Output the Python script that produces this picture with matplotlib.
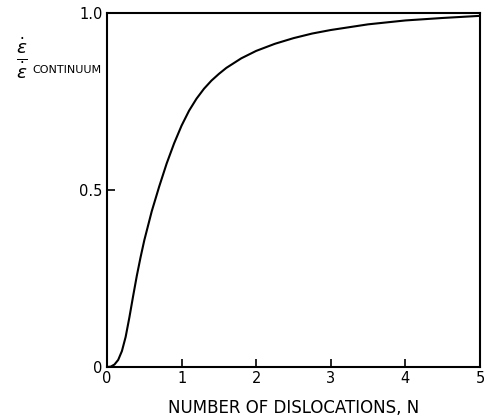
import numpy as np
import matplotlib
matplotlib.use('Agg')
import matplotlib.pyplot as plt

# curve
n_disl = [0, 0.05, 0.1, 0.15, 0.2, 0.25, 0.3, 0.35, 0.4, 0.45, 0.5, 0.6, 0.7, 0.8, 0.9,
          1.0, 1.1, 1.2, 1.3, 1.4, 1.5, 1.6, 1.8, 2.0, 2.25, 2.5, 2.75, 3.0, 3.5, 4.0, 4.5, 5.0]
rate_ratio = [0, 0.001, 0.007, 0.02, 0.045, 0.085, 0.14, 0.2, 0.258, 0.31, 0.358, 0.44,
              0.51, 0.575, 0.632, 0.682, 0.724, 0.758, 0.786, 0.809, 0.828, 0.845, 0.872,
              0.893, 0.913, 0.929, 0.942, 0.952, 0.968, 0.979, 0.986, 0.992]

x_ticks = [0, 1, 2, 3, 4, 5]
y_ticks = [0, 0.5, 1.0]
y_tick_labels = ['0', '0.5', '1.0']

fig = plt.figure(figsize=(4.89, 4.17), dpi=100)
ax = fig.add_axes([0.2188, 0.1199, 0.7628, 0.8489])

ax.plot(n_disl, rate_ratio, color='black', lw=1.5, solid_joinstyle='round')

ax.set_xlim(0, 5)
ax.set_ylim(0, 1.0)
ax.set_xticks(x_ticks)
ax.set_xticklabels([str(t) for t in x_ticks])
ax.set_yticks(y_ticks)
ax.set_yticklabels(y_tick_labels)
ax.tick_params(direction='in', length=6, width=1.2, labelsize=10.5, pad=3)
for s in ax.spines.values():
    s.set_linewidth(1.5)

ax.set_xlabel('NUMBER OF DISLOCATIONS, N', fontsize=12, labelpad=9)

# y label drawn as a fraction with subscript beside it
fig.text(0.045, 0.862, r'$\frac{\dot{\epsilon}}{\dot{\epsilon}}$', fontsize=19,
         ha='center', va='center')
fig.text(0.066, 0.832, 'CONTINUUM', fontsize=8, ha='left', va='center')

fig.savefig('out.png', dpi=100)
